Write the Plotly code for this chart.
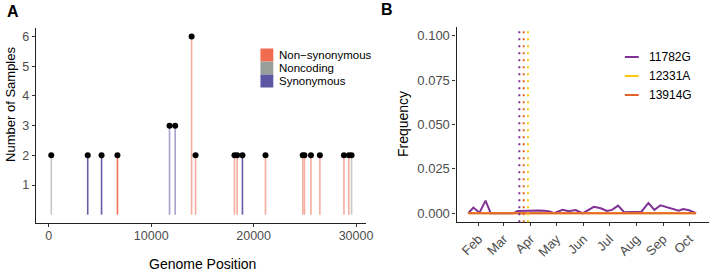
import plotly.graph_objects as go

# ---------------- Panel A data ----------------
positions = [241, 3800, 5150, 6700, 11790, 12340, 13945, 14330, 18130, 18390,
             18910, 21160, 24800, 24960, 25600, 26470, 28820, 29300, 29565]
n_samples = [2, 2, 2, 2, 3, 3, 6, 2, 2, 2, 2, 2, 2, 2, 2, 2, 2, 2, 2]
mut_type = ["Noncoding", "Synonymous", "Synonymous", "Non-synonymous",
            "Synonymous", "Synonymous", "Non-synonymous", "Non-synonymous",
            "Non-synonymous", "Non-synonymous", "Synonymous", "Non-synonymous",
            "Non-synonymous", "Non-synonymous", "Non-synonymous", "Non-synonymous",
            "Non-synonymous", "Non-synonymous", "Noncoding"]
highlighted = [False, True, True, True, False, False, False, False, False, False,
               True, False, False, False, False, False, False, False, False]
type_levels = ["Non-synonymous", "Noncoding", "Synonymous"]
type_labels = ["Non\u2212synonymous", "Noncoding", "Synonymous"]
a_xticks = [0, 10000, 20000, 30000]
a_yticks = [1, 2, 3, 4, 5, 6]

# ---------------- Panel B data ----------------
dates = ["2020-01-20", "2020-01-26", "2020-02-02", "2020-02-09", "2020-02-15",
         "2020-03-01", "2020-03-12", "2020-03-17", "2020-03-27", "2020-04-10",
         "2020-04-17", "2020-04-23", "2020-04-28", "2020-05-08", "2020-05-15",
         "2020-05-23", "2020-05-31", "2020-06-13", "2020-06-21", "2020-06-28",
         "2020-07-04", "2020-07-11", "2020-07-18", "2020-07-25", "2020-08-07",
         "2020-08-15", "2020-08-22", "2020-08-29", "2020-09-08", "2020-09-19",
         "2020-09-24", "2020-10-01", "2020-10-09"]
freq_11782G = [0, 0.0032, 0.0003, 0.0071, 0, 0, 0, 0.0013, 0.0015, 0.0015,
               0.0014, 0.0010, 0, 0.0020, 0.0012, 0.0018, 0, 0.0036, 0.0028,
               0.0013, 0.0019, 0.0043, 0.0006, 0.0006, 0.0009, 0.0058, 0.0019,
               0.0045, 0.0032, 0.0015, 0.0024, 0.0017, 0]
freq_12331A = [0] * len(dates)
freq_13914G = [0] * len(dates)
variants = ["11782G", "12331A", "13914G"]
first_seen = {"11782G": "2020-03-19", "12331A": "2020-03-29", "13914G": "2020-03-24"}
b_yticks = [0.0, 0.025, 0.05, 0.075, 0.1]
b_yticklabels = ["0.000", "0.025", "0.050", "0.075", "0.100"]
month_ticks = ["2020-02-01", "2020-03-01", "2020-04-01", "2020-05-01", "2020-06-01",
               "2020-07-01", "2020-08-01", "2020-09-01", "2020-10-01"]

# ---------------- styles ----------------
W, H = 720, 272
FONT = "Liberation Sans, Arial, sans-serif"
TICKC = "#4D4D4D"
type_colors = {"Non-synonymous": "#F26B4F", "Noncoding": "#9A9E9A", "Synonymous": "#5C56A3"}
var_colors = {"11782G": "#7D3294", "12331A": "#FCC70C", "13914G": "#E4632D"}


def px_x(p):
    return p / W


def px_y(p):
    return 1 - p / H


fig = go.Figure()

# stems
for t in type_levels:
    for hi in (False, True):
        xs, ys = [], []
        for p, n, mt, h in zip(positions, n_samples, mut_type, highlighted):
            if mt == t and h == hi:
                xs += [p, p, None]
                ys += [0, n, None]
        if xs:
            fig.add_trace(go.Scatter(
                x=xs, y=ys, mode="lines", xaxis="x", yaxis="y",
                line=dict(color=type_colors[t], width=1.6),
                opacity=0.95 if hi else 0.55, showlegend=False, hoverinfo="skip"))

# points
fig.add_trace(go.Scatter(x=positions, y=n_samples, mode="markers", xaxis="x", yaxis="y",
                         marker=dict(color="black", size=6), showlegend=False))

# Panel B lines
series = {"11782G": freq_11782G, "12331A": freq_12331A, "13914G": freq_13914G}
for v in variants:
    fig.add_trace(go.Scatter(x=dates, y=series[v], mode="lines", xaxis="x2", yaxis="y2",
                             line=dict(color=var_colors[v], width=2), showlegend=False))

shapes = []
for v in variants:
    shapes.append(dict(type="line", xref="x2", yref="y2 domain", x0=first_seen[v], x1=first_seen[v],
                       y0=0, y1=1, line=dict(color=var_colors[v], width=2, dash="2px,5px")))

annotations = []
# Legend A (manual)
for i, (t, lab) in enumerate(zip(type_levels, type_labels)):
    yc = 55 + 13 * i
    shapes.append(dict(type="rect", xref="paper", yref="paper",
                       x0=px_x(263), x1=px_x(276), y0=px_y(yc - 6.5), y1=px_y(yc + 6.5),
                       fillcolor=type_colors[t], line=dict(width=0)))
    annotations.append(dict(text=lab, xref="paper", yref="paper", x=px_x(280), y=px_y(yc),
                            xanchor="left", yanchor="middle", showarrow=False,
                            font=dict(family=FONT, size=11.5, color="black")))
# Legend B (manual)
for i, v in enumerate(variants):
    yc = 57 + 19 * i
    shapes.append(dict(type="line", xref="paper", yref="paper",
                       x0=px_x(631), x1=px_x(645), y0=px_y(yc), y1=px_y(yc),
                       line=dict(color=var_colors[v], width=2)))
    annotations.append(dict(text=v, xref="paper", yref="paper", x=px_x(653), y=px_y(yc),
                            xanchor="left", yanchor="middle", showarrow=False,
                            font=dict(family=FONT, size=12, color="black")))

# Panel letters and axis titles
annotations += [
    dict(text="<b>A</b>", xref="paper", yref="paper", x=px_x(5), y=px_y(12), xanchor="left",
         yanchor="middle", showarrow=False, font=dict(family=FONT, size=16, color="black")),
    dict(text="<b>B</b>", xref="paper", yref="paper", x=px_x(383), y=px_y(10), xanchor="left",
         yanchor="middle", showarrow=False, font=dict(family=FONT, size=16, color="black")),
    dict(text="Number of Samples", xref="paper", yref="paper", x=px_x(10), y=px_y(104),
         textangle=-90, xanchor="center", yanchor="middle", showarrow=False,
         font=dict(family=FONT, size=13, color="black")),
    dict(text="Genome Position", xref="paper", yref="paper", x=px_x(204), y=px_y(264),
         xanchor="center", yanchor="middle", showarrow=False,
         font=dict(family=FONT, size=14, color="black")),
    dict(text="Frequency", xref="paper", yref="paper", x=px_x(407), y=px_y(124),
         textangle=-90, xanchor="center", yanchor="middle", showarrow=False,
         font=dict(family=FONT, size=14, color="black")),
]

axis_common = dict(showline=True, linecolor="#222222", linewidth=1.1, ticks="outside",
                   ticklen=3, tickcolor="#333333", tickwidth=1, showgrid=False, zeroline=False)

fig.update_layout(
    width=W, height=H, margin=dict(l=0, r=0, t=0, b=0),
    paper_bgcolor="white", plot_bgcolor="white", showlegend=False,
    xaxis=dict(domain=[px_x(36), px_x(370)], anchor="y", range=[-1285, 31014],
               tickvals=a_xticks, ticktext=[str(v) for v in a_xticks], ticklabelstandoff=-2,
               tickfont=dict(family=FONT, size=12.5, color=TICKC), **axis_common),
    yaxis=dict(domain=[px_y(222.7), px_y(28)], anchor="x", range=[-0.27, 6.29],
               tickvals=a_yticks, tickfont=dict(family=FONT, size=12.5, color=TICKC), **axis_common),
    xaxis2=dict(domain=[px_x(461), px_x(716)], anchor="y2", type="date",
                range=["2020-01-06 12:00", "2020-10-24"], tickvals=month_ticks,
                tickformat="%b", tickangle=-45,
                tickfont=dict(family=FONT, size=13, color=TICKC), **axis_common),
    yaxis2=dict(domain=[px_y(222.3), px_y(26.7)], anchor="x2", range=[-0.0051, 0.1052],
                tickvals=b_yticks, ticktext=b_yticklabels,
                tickfont=dict(family=FONT, size=13, color=TICKC), **axis_common),
    shapes=shapes, annotations=annotations,
)

fig.write_html("out.html", config={"displayModeBar": False},
               post_script="document.body.style.margin='0px';")
